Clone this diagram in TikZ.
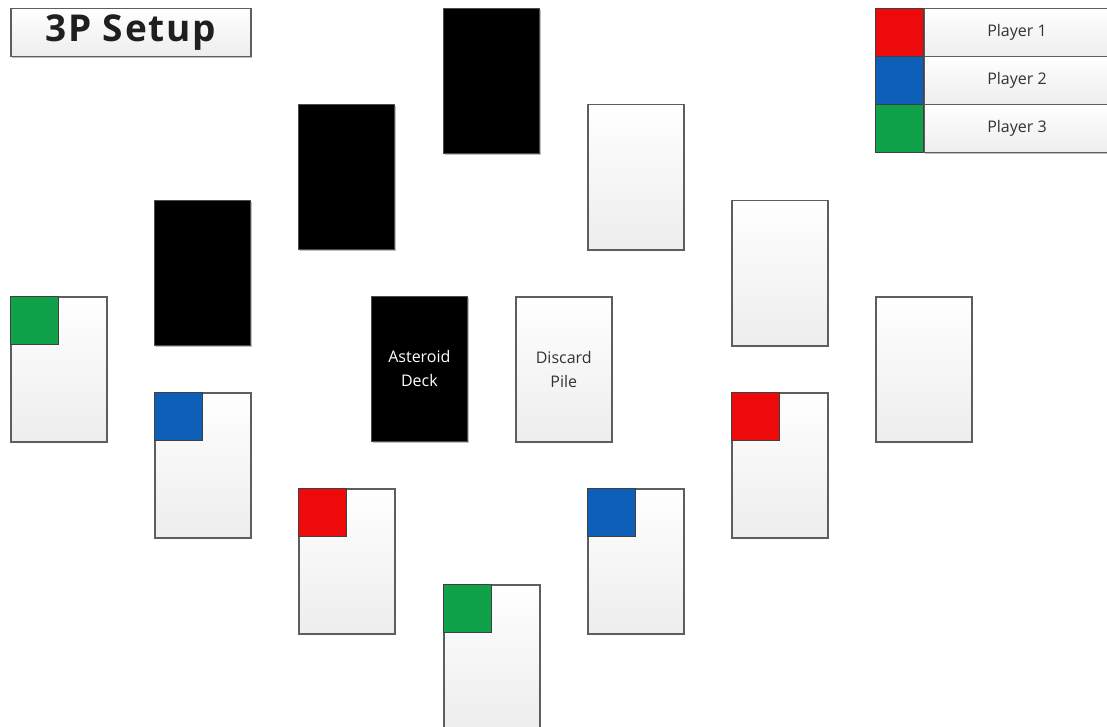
\documentclass[tikz,border=0pt]{standalone}
\usepackage{fontspec}
\setmainfont{Open Sans}
\newfontfamily\titlefont[LetterSpace=5]{Open Sans}
\usetikzlibrary{shadows}
\definecolor{cardborder}{HTML}{5E5E5E}
\definecolor{pred}{HTML}{EE0A0A}
\definecolor{pblue}{HTML}{0D5FB8}
\definecolor{pgreen}{HTML}{0FA24A}
\definecolor{txt}{HTML}{333333}
\tikzset{
  card/.style={draw=cardborder, line width=1.5pt, top color=white, bottom color=black!7,
    minimum width=96pt, minimum height=145pt, anchor=north west, inner sep=0pt,
    drop shadow={shadow xshift=1.2pt, shadow yshift=-1.5pt, opacity=0.25, fill=black},
    font=\fontsize{16}{24}\selectfont, text=txt, align=center},
  backcard/.style={card, fill=black, top color=black, bottom color=black, draw=black!70, line width=0.8pt, text=white!85},
  marker/.style={draw=black!75, line width=0.8pt, minimum size=48pt, anchor=north west, inner sep=0pt},
  cell/.style={draw=cardborder, line width=1.5pt, top color=white, bottom color=black!7, anchor=north west, inner sep=0pt, minimum height=48pt},
  lbl/.style={font=\fontsize{16}{20}\selectfont, text=txt},
  shad/.style={drop shadow={shadow xshift=1.2pt, shadow yshift=-1.5pt, opacity=0.25, fill=black}},
}
\begin{document}
\begin{tikzpicture}[x=1pt,y=-1pt]
\useasboundingbox (0,0) rectangle (1107,727);
\clip (0,0) rectangle (1107,727);
% title
\node[cell, minimum width=240pt, shad, font=\titlefont\bfseries\fontsize{37}{38}\selectfont, text=black!88] (title) at (10,8) {3P Setup};
% legend
\node[cell, minimum width=200pt, shad] (l1) at (923,8) {};
\node[cell, minimum width=200pt] (l2) at (923,56) {};
\node[cell, minimum width=200pt, shad] (l3) at (923,104) {};
\node[lbl] (t1) at (1017,32) {Player 1};
\node[lbl] (t2) at (1017,80) {Player 2};
\node[lbl] (t3) at (1017,128) {Player 3};
\node[marker, fill=pred] (k1) at (875,8) {};
\node[marker, fill=pblue] (k2) at (875,56) {};
\node[marker, fill=pgreen] (k3) at (875,104) {};
% face-down cards
\node[backcard] (b1) at (154,200) {};
\node[backcard] (b2) at (298,104) {};
\node[backcard] (b3) at (443,8) {};
% face-up cards
\node[card] (w1) at (587,104) {};
\node[card] (w2) at (731,200) {};
\node[card] (w3) at (875,296) {};
% deck and discard
\node[backcard, text=white!85] (deck) at (371,296) {Asteroid\\Deck};
\node[card] (discard) at (515,296) {Discard\\Pile};
% player cards
\node[card] (g1) at (10,296) {};
\node[marker, fill=pgreen] (g1m) at (g1.north west) {};
\node[card] (bl1) at (154,392) {};
\node[marker, fill=pblue] (bl1m) at (bl1.north west) {};
\node[card] (r1) at (298,488) {};
\node[marker, fill=pred] (r1m) at (r1.north west) {};
\node[card] (g2) at (443,584) {};
\node[marker, fill=pgreen] (g2m) at (g2.north west) {};
\node[card] (bl2) at (587,488) {};
\node[marker, fill=pblue] (bl2m) at (bl2.north west) {};
\node[card] (r2) at (731,392) {};
\node[marker, fill=pred] (r2m) at (r2.north west) {};
\end{tikzpicture}
\end{document}
